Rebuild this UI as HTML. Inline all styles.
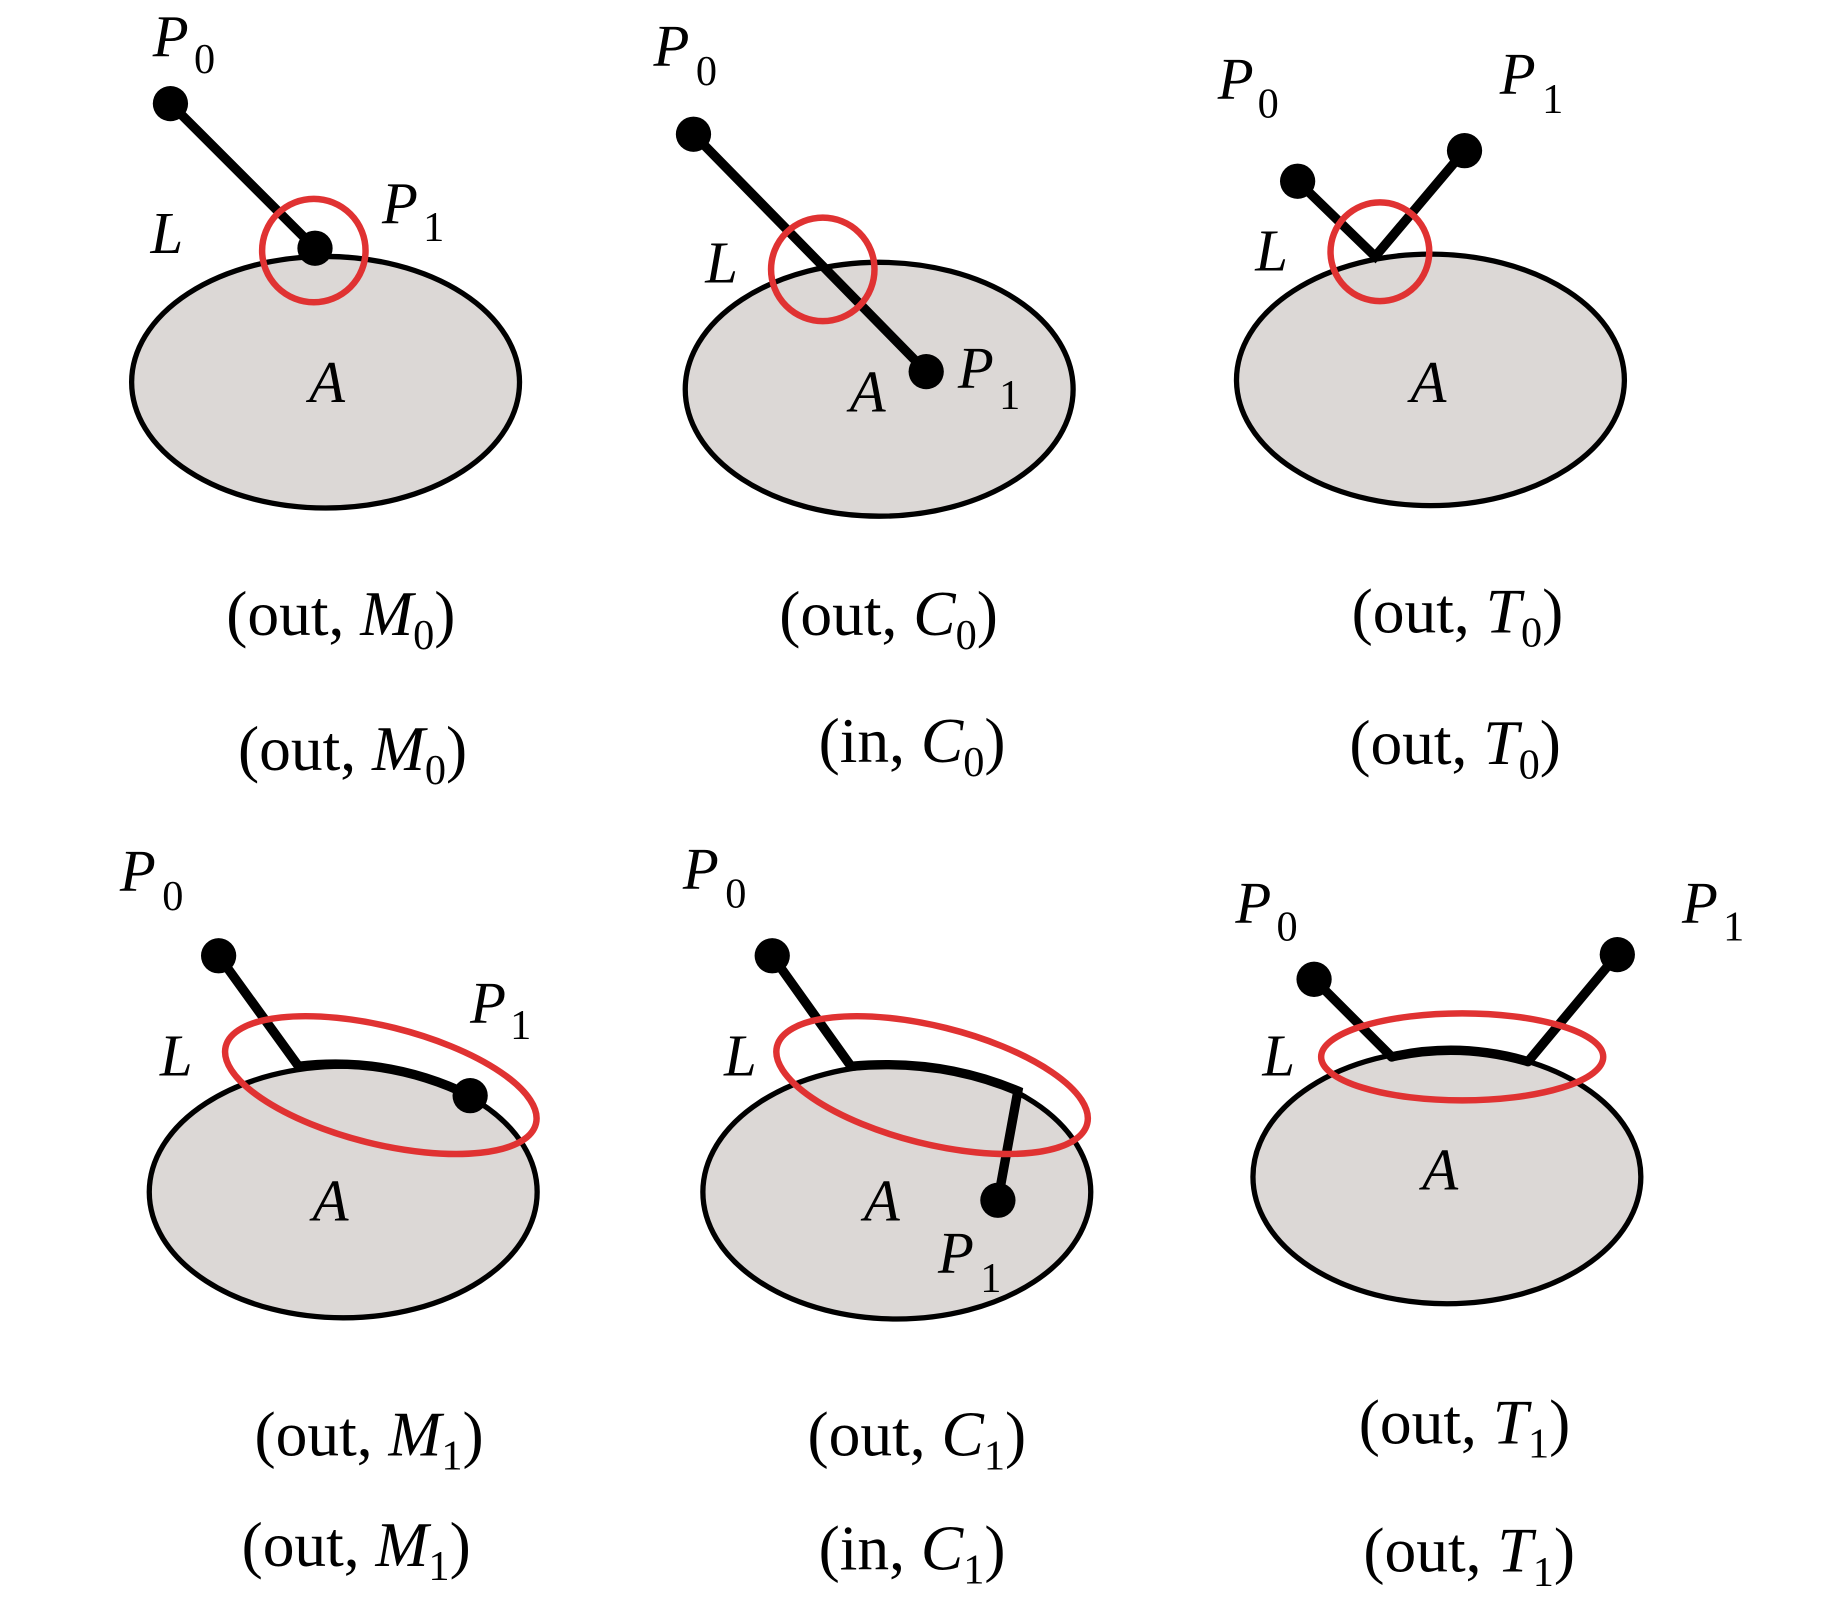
<!DOCTYPE html>
<html><head><meta charset="utf-8"><style>html,body{margin:0;padding:0;background:#fff}svg{display:block}</style></head>
<body>
<svg width="1843" height="1606" viewBox="0 0 1568 1366" xmlns="http://www.w3.org/2000/svg" font-family="'Liberation Serif', serif">
<g stroke="#000" stroke-width="4.5" fill="#dcd8d6">
<ellipse cx="277" cy="325" rx="165" ry="107"/>
<ellipse cx="748" cy="331" rx="165" ry="108"/>
<ellipse cx="1217" cy="323" rx="165" ry="107"/>
<ellipse cx="292" cy="1014" rx="165" ry="107"/>
<ellipse cx="763" cy="1014" rx="165" ry="108"/>
<ellipse cx="1231" cy="1001" rx="165" ry="108"/>
</g>
<g stroke="#000" stroke-width="8" fill="none" stroke-linecap="round">
<line x1="145" y1="88" x2="268" y2="211"/>
<line x1="590" y1="114" x2="788" y2="316"/>
<polyline points="1104,154 1170,218 1246,128"/>
<line x1="186" y1="813" x2="254" y2="907"/>
<path d="M254,907 Q330,898 400,932"/>
<line x1="657" y1="813" x2="724" y2="907"/>
<path d="M724,907 Q800,900 866,928 L849,1021"/>
<line x1="1118" y1="833" x2="1184" y2="899"/>
<line x1="1376" y1="812" x2="1300" y2="903"/>
<path d="M1184,899 Q1242,886 1300,903"/>
</g>
<g fill="#000">
<circle cx="145" cy="88" r="15"/><circle cx="268" cy="211" r="15"/>
<circle cx="590" cy="114" r="15"/><circle cx="788" cy="316" r="15"/>
<circle cx="1104" cy="154" r="15"/><circle cx="1246" cy="128" r="15"/>
<circle cx="186" cy="813" r="15"/><circle cx="400" cy="932" r="15"/>
<circle cx="657" cy="813" r="15"/><circle cx="849" cy="1021" r="15"/>
<circle cx="1118" cy="833" r="15"/><circle cx="1376" cy="812" r="15"/>
</g>
<g stroke="#e03232" stroke-width="5.5" fill="none">
<circle cx="267" cy="213" r="44"/>
<circle cx="700" cy="229" r="44"/>
<circle cx="1174" cy="214" r="42"/>
<ellipse cx="324" cy="923" rx="136" ry="50" transform="rotate(14 324 923)"/>
<ellipse cx="793" cy="923" rx="136" ry="50" transform="rotate(14 793 923)"/>
<ellipse cx="1244" cy="899" rx="120" ry="37"/>
</g>
<g font-size="50" fill="#000">
<g font-style="italic">
<text x="130" y="48">P</text><text x="128" y="215">L</text><text x="325" y="190">P</text><text x="263" y="342">A</text>
<text x="556" y="56">P</text><text x="600" y="240">L</text><text x="815" y="330">P</text><text x="723" y="350">A</text>
<text x="1036" y="84">P</text><text x="1276" y="80">P</text><text x="1068" y="230">L</text><text x="1200" y="342">A</text>
<text x="102" y="758">P</text><text x="400" y="870">P</text><text x="136" y="915">L</text><text x="266" y="1038">A</text>
<text x="581" y="756">P</text><text x="616" y="915">L</text><text x="735" y="1038">A</text><text x="798" y="1083">P</text>
<text x="1051" y="785">P</text><text x="1431" y="785">P</text><text x="1074" y="915">L</text><text x="1210" y="1012">A</text>
</g>
<g font-size="36">
<text x="165" y="62">0</text><text x="360" y="205">1</text>
<text x="592" y="72">0</text><text x="850" y="348">1</text>
<text x="1070" y="100">0</text><text x="1312" y="96">1</text>
<text x="138" y="774">0</text><text x="434" y="884">1</text>
<text x="617" y="772">0</text><text x="834" y="1099">1</text>
<text x="1086" y="800">0</text><text x="1466" y="800">1</text>
</g>
</g>
<g font-size="54" fill="#000" text-anchor="middle">
<text x="290" y="540">(out, <tspan font-style="italic">M</tspan><tspan font-size="36" dy="12">0</tspan><tspan dy="-12">)</tspan></text>
<text x="300" y="655">(out, <tspan font-style="italic">M</tspan><tspan font-size="36" dy="12">0</tspan><tspan dy="-12">)</tspan></text>
<text x="756" y="540">(out, <tspan font-style="italic">C</tspan><tspan font-size="36" dy="12">0</tspan><tspan dy="-12">)</tspan></text>
<text x="776" y="648">(in, <tspan font-style="italic">C</tspan><tspan font-size="36" dy="12">0</tspan><tspan dy="-12">)</tspan></text>
<text x="1240" y="538">(out, <tspan font-style="italic">T</tspan><tspan font-size="36" dy="12">0</tspan><tspan dy="-12">)</tspan></text>
<text x="1238" y="650">(out, <tspan font-style="italic">T</tspan><tspan font-size="36" dy="12">0</tspan><tspan dy="-12">)</tspan></text>
<text x="314" y="1238">(out, <tspan font-style="italic">M</tspan><tspan font-size="36" dy="12">1</tspan><tspan dy="-12">)</tspan></text>
<text x="303" y="1332">(out, <tspan font-style="italic">M</tspan><tspan font-size="36" dy="12">1</tspan><tspan dy="-12">)</tspan></text>
<text x="780" y="1238">(out, <tspan font-style="italic">C</tspan><tspan font-size="36" dy="12">1</tspan><tspan dy="-12">)</tspan></text>
<text x="776" y="1335">(in, <tspan font-style="italic">C</tspan><tspan font-size="36" dy="12">1</tspan><tspan dy="-12">)</tspan></text>
<text x="1246" y="1228">(out, <tspan font-style="italic">T</tspan><tspan font-size="36" dy="12">1</tspan><tspan dy="-12">)</tspan></text>
<text x="1250" y="1337">(out, <tspan font-style="italic">T</tspan><tspan font-size="36" dy="12">1</tspan><tspan dy="-12">)</tspan></text>
</g>
</svg>
</body></html>
